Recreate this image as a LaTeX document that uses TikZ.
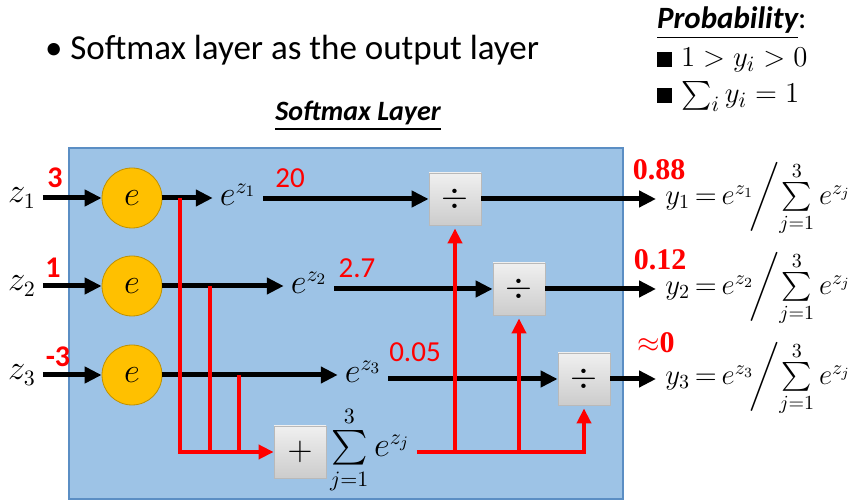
\documentclass[tikz,border=0pt]{standalone}
\usepackage{amsmath}
\usepackage{fontspec}
\setsansfont{Carlito}
\newfontfamily\timesfont{Liberation Serif}
\usetikzlibrary{arrows.meta,positioning,calc}
\definecolor{layerblue}{HTML}{9DC3E6}
\definecolor{layeredge}{HTML}{5B8EC4}
\definecolor{expfill}{HTML}{FFC000}
\definecolor{expedge}{HTML}{BF9000}
\newcommand{\softout}[1]{$\thickmuskip=3mu y_{#1}=e^{z_{#1}}\!\bigg/\!\sum\limits_{j=1}^{3}e^{z_j}$}

\begin{document}
\begin{tikzpicture}[
  x=0.5pt,y=-0.5pt,
  expnode/.style={circle,draw=expedge,fill=expfill,minimum size=30pt,inner sep=0pt,font=\fontsize{16}{16}\selectfont},
  opbox/.style={draw=gray!55,top color=gray!12,bottom color=gray!40,minimum size=26pt,inner sep=0pt,font=\fontsize{17}{17}\selectfont},
  mathlbl/.style={font=\fontsize{16}{16}\selectfont},
  outlbl/.style={anchor=west,inner sep=4.5pt,font=\fontsize{14.5}{14.5}\selectfont},
  flow/.style={-{Triangle[length=8.5pt,width=8pt]},line width=2.5pt},
  sumflow/.style={red,line width=2pt},
  sumarrow/.style={sumflow,-{Triangle[length=7.5pt,width=7pt]}},
  inval/.style={red,font=\sffamily\bfseries\fontsize{15}{15}\selectfont},
  midval/.style={red,font=\sffamily\fontsize{14.5}{14.5}\selectfont},
  outval/.style={red,font=\timesfont\bfseries\fontsize{15}{15}\selectfont},
  heading/.style={font=\sffamily\bfseries\itshape\fontsize{14}{14}\selectfont}
]
\useasboundingbox (0,0) rectangle (867,501);
% the layer
\filldraw[fill=layerblue,draw=layeredge,line width=0.6pt] (69,148) rectangle (623,499);
\node[anchor=west,font=\sffamily\fontsize{17.5}{17.5}\selectfont] (title) at (38,50) {\textbullet\ Softmax layer as the output layer};
\node[heading] (layername) at (358,116) {\underline{Softmax Layer}};
\node[anchor=north west,align=left,font=\fontsize{15.5}{19}\selectfont] (prob) at (650,0)
  {\underline{\sffamily\bfseries\itshape Probability}{\sffamily :}\\
   \rule{1.1ex}{1.1ex}\ $1>y_i>0$\\[-1pt]
   \rule{1.1ex}{1.1ex}\ $\sum_i y_i=1$};

% inputs and exponentials
\node[mathlbl] (z1) at (22,198) {$z_1$};
\node[mathlbl] (z2) at (22,286) {$z_2$};
\node[mathlbl] (z3) at (22,375) {$z_3$};
\node[expnode] (e1) at (132,198) {$e$};
\node[expnode] (e2) at (132,286) {$e$};
\node[expnode] (e3) at (132,375) {$e$};
\node[mathlbl] (ez1) at (238,195) {$e^{z_1}$};
\node[mathlbl] (ez2) at (309,283) {$e^{z_2}$};
\node[mathlbl] (ez3) at (363,372) {$e^{z_3}$};
\draw[flow] (z1) -- (e1);
\draw[flow] (z2) -- (e2);
\draw[flow] (z3) -- (e3);
\draw[flow] (e1) -- (ez1.west |- e1);
\draw[flow] (e2) -- (ez2.west |- e2);
\draw[flow] (e3) -- (ez3.west |- e3);

% dividers and sum
\node[opbox] (div1) at (455,199) {$\div$};
\node[opbox] (div2) at (519,289) {$\div$};
\node[opbox] (div3) at (584,379) {$\div$};
\node[opbox] (plus) at (300,452) {$+$};
\node[mathlbl] (sum) at (370,450) {$\sum\limits_{j=1}^{3}e^{z_j}$};
\draw[flow] (ez1.east |- div1) -- (div1);
\draw[flow] (ez2.east |- div2) -- (div2);
\draw[flow] (ez3.east |- div3) -- (div3);

\coordinate (t1) at (180,198);
\coordinate (t2) at (210,286);
\coordinate (t3) at (239,375);
\draw[sumarrow] (t1) |- (plus.west);
\draw[sumflow] (t2) -- (t2 |- plus);
\draw[sumflow] (t3) -- (t3 |- plus);
\draw[sumarrow,shorten >=1.5pt] (sum.east |- plus) -| (div3.south);
\draw[sumarrow,shorten >=1.5pt] (div1 |- plus) -- (div1.south);
\draw[sumarrow,shorten >=1.5pt] (div2 |- plus) -- (div2.south);

% outputs
\node[outlbl] (y1) at (656,199) {\softout{1}};
\node[outlbl] (y2) at (656,289) {\softout{2}};
\node[outlbl] (y3) at (656,379) {\softout{3}};
\draw[flow] (div1) -- (y1.west |- div1);
\draw[flow] (div2) -- (y2.west |- div2);
\draw[flow] (div3) -- (y3.west |- div3);

% values
\node[inval] (v1) at (55,178) {3};
\node[inval] (v2) at (53,268) {1};
\node[inval] (v3) at (58,357) {-3};
\node[midval] (m1) at (290,178) {20};
\node[midval] (m2) at (357,268) {2.7};
\node[midval] (m3) at (415,352) {0.05};
\node[outval] (p1) at (659,170) {0.88};
\node[outval] (p2) at (660,260) {0.12};
\node[outval] (p3) at (656,343) {$\approx$0};
\end{tikzpicture}
\end{document}
